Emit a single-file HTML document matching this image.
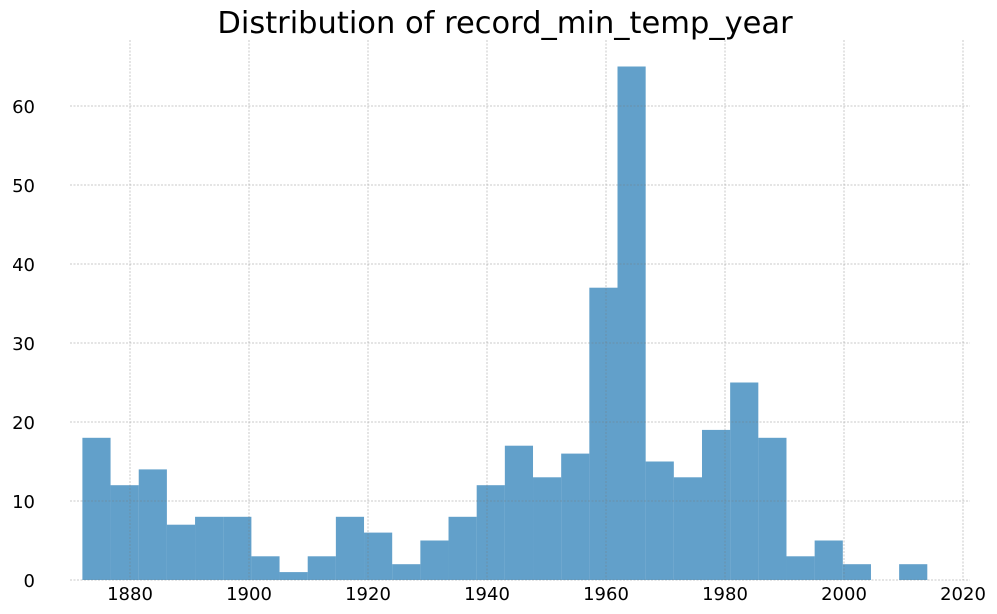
<!DOCTYPE html>
<html>
<head>
<meta charset="utf-8">
<style>
  html, body { margin: 0; padding: 0; background: #fff; }
  svg { display: block; font-family: "DejaVu Sans", "Liberation Sans", sans-serif; }
</style>
</head>
<body>
<svg id="chart" width="997" height="614" viewBox="0 0 997 614">
  <text x="505" y="33" text-anchor="middle" font-size="30.5" fill="#000">Distribution of record_min_temp_year</text>
  <g id="bars"></g>
  <g id="grid"></g>
  <g id="xticks"></g>
  <g id="yticks"></g>
</svg>
<script>
const binStart = 1872;
const binEnd = 2014;
const counts = [18,12,14,7,8,8,3,1,3,8,6,2,5,8,12,17,13,16,37,65,15,13,19,25,18,3,5,2,0,2];
const xTickLabels = [1880,1900,1920,1940,1960,1980,2000,2020];
const yTickLabels = [0,10,20,30,40,50,60];

const NS = "http://www.w3.org/2000/svg";
const plotTop = 40, plotBottom = 580, plotLeft = 70, plotRight = 970;
function xScale(v) { return 130 + (v - 1880) * (963 - 130) / 140; }
function yScale(v) { return 580 - v * (580 - 106) / 60; }

const grid = document.getElementById('grid');
const bars = document.getElementById('bars');
const xt = document.getElementById('xticks');
const yt = document.getElementById('yticks');

xTickLabels.forEach(t => {
  const x = xScale(t);
  const l = document.createElementNS(NS, 'line');
  l.setAttribute('x1', x); l.setAttribute('x2', x);
  l.setAttribute('y1', plotTop); l.setAttribute('y2', plotBottom);
  l.setAttribute('stroke', '#777'); l.setAttribute('stroke-width', '0.5');
  l.setAttribute('stroke-dasharray', '2,1.5');
  l.setAttribute('stroke-opacity', '0.8');
  
  
  grid.appendChild(l);
  const tx = document.createElementNS(NS, 'text');
  tx.setAttribute('x', x); tx.setAttribute('y', 600);
  tx.setAttribute('text-anchor', 'middle'); tx.setAttribute('font-size', '18');
  tx.textContent = t;
  
  
  xt.appendChild(tx);
});
yTickLabels.forEach(t => {
  const y = yScale(t);
  const l = document.createElementNS(NS, 'line');
  l.setAttribute('x1', plotLeft); l.setAttribute('x2', plotRight);
  l.setAttribute('y1', y); l.setAttribute('y2', y);
  l.setAttribute('stroke', '#777'); l.setAttribute('stroke-width', '0.5');
  l.setAttribute('stroke-dasharray', '2,1.5');
  l.setAttribute('stroke-opacity', '0.8');
  
  
  grid.appendChild(l);
  const tx = document.createElementNS(NS, 'text');
  tx.setAttribute('x', 35); tx.setAttribute('y', y + 7);
  tx.setAttribute('text-anchor', 'end'); tx.setAttribute('font-size', '18');
  tx.textContent = t;
  
  
  yt.appendChild(tx);
});

const binW = (binEnd - binStart) / counts.length;
counts.forEach((c, i) => {
  if (c <= 0) return;
  const x0 = xScale(binStart + i * binW), x1 = xScale(binStart + (i + 1) * binW);
  const r = document.createElementNS(NS, 'rect');
  r.setAttribute('x', x0); r.setAttribute('width', x1 - x0);
  r.setAttribute('y', yScale(c)); r.setAttribute('height', yScale(0) - yScale(c));
  r.setAttribute('fill', '#1f77b4'); r.setAttribute('fill-opacity', '0.7');
  
  
  bars.appendChild(r);
});
</script>
</body>
</html>
